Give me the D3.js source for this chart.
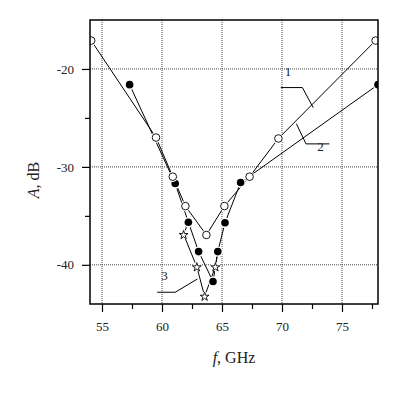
<!DOCTYPE html>
<html lang="en">
<head>
    <meta charset="UTF-8">
    <title>A vs f</title>
    <script src="https://cdn.jsdelivr.net/npm/d3@7"></script>
    <style>
      body { margin: 0; background: #fff; }
      text { font-family: "Liberation Serif", "Times New Roman", serif; fill: #222; }
    </style>
</head>
<body>
    <script>
      // curve 1: open circles
      const f1 = [54.1, 59.5, 60.9, 61.95, 63.7, 65.2, 67.3, 69.7, 77.8];
      const a1 = [-17.1, -27.0, -31.0, -34.0, -36.95, -34.0, -31.0, -27.1, -17.1];
      // curve 2: filled circles
      const f2 = [57.3, 61.1, 62.2, 63.05, 64.25, 64.65, 65.25, 66.55, 78.0];
      const a2 = [-21.6, -31.7, -35.65, -38.65, -41.7, -38.65, -35.7, -31.6, -21.6];
      // curve 3: stars (its ends join curve 2)
      const f3 = [62.2, 61.8, 62.9, 63.55, 64.45, 64.65];
      const a3 = [-35.65, -36.9, -40.2, -43.2, -40.2, -38.65];

      const xTicks = [55, 60, 65, 70, 75];
      const xMinor = [57.5, 62.5, 67.5, 72.5, 77.5];
      const yTicks = [-20, -30, -40];
      const yMinor = [-25, -35];

      const w = 400, h = 396;
      const margin = {left: 90, right: 22, top: 20, bottom: 92};

      const xScale = d3.scaleLinear().domain([54, 78]).range([margin.left, w - margin.right]);
      const yScale = d3.scaleLinear().domain([-44, -15]).range([h - margin.bottom, margin.top]);

      const svg = d3.select("body").append("svg")
                    .attr("width", w)
                    .attr("height", h);

      svg.append("clipPath").attr("id", "clip")
         .append("rect")
         .attr("x", margin.left).attr("y", margin.top)
         .attr("width", w - margin.left - margin.right)
         .attr("height", h - margin.top - margin.bottom);

      // dotted grid
      const grid = svg.append("g").attr("stroke", "#444").attr("stroke-dasharray", "1,1");
      grid.selectAll("line.gx").data(xTicks).enter().append("line")
          .attr("x1", d => xScale(d)).attr("x2", d => xScale(d))
          .attr("y1", margin.top).attr("y2", h - margin.bottom);
      grid.selectAll("line.gy").data(yTicks).enter().append("line")
          .attr("y1", d => yScale(d)).attr("y2", d => yScale(d))
          .attr("x1", margin.left).attr("x2", w - margin.right);

      // axes (plain hyphen for the minus sign, as in the original)
      const bottom = h - margin.bottom;
      svg.append("g").attr("transform", `translate(0,${bottom})`)
         .call(d3.axisBottom(xScale).tickValues(xTicks).tickSize(8).tickPadding(10)
                 .tickFormat(d => String(d)));
      svg.append("g").attr("transform", `translate(0,${bottom})`)
         .call(d3.axisBottom(xScale).tickValues(xMinor).tickSize(5).tickFormat(""));
      svg.append("g").attr("transform", `translate(${margin.left},0)`)
         .call(d3.axisLeft(yScale).tickValues(yTicks).tickSize(8).tickPadding(8)
                 .tickFormat(d => String(d)));
      svg.append("g").attr("transform", `translate(${margin.left},0)`)
         .call(d3.axisLeft(yScale).tickValues(yMinor).tickSize(5).tickFormat(""));
      svg.selectAll(".domain").remove();
      svg.selectAll(".tick line").attr("stroke", "#000").attr("stroke-width", 1.2);
      svg.selectAll(".tick text")
         .style("font-family", "Liberation Serif, serif")
         .style("font-size", "13px")
         .attr("fill", "#333");

      const plot = svg.append("g").attr("clip-path", "url(#clip)");

      const line = d3.line().x(d => xScale(d[0])).y(d => yScale(d[1]));
      const s1 = f1.map((f, i) => [f, a1[i]]);
      const s2 = f2.map((f, i) => [f, a2[i]]);
      const s3 = f3.map((f, i) => [f, a3[i]]);

      [s3, s2, s1].forEach(s => {
        plot.append("path").datum(s)
            .attr("d", line)
            .attr("fill", "none")
            .attr("stroke", "#000")
            .attr("stroke-width", 1);
      });

      // white halos give the gaps around markers
      const halo = (sel, data, r) => sel.selectAll(null).data(data).enter().append("circle")
          .attr("cx", d => xScale(d[0])).attr("cy", d => yScale(d[1]))
          .attr("r", r).attr("fill", "#fff");

      const star = d3.symbol().type(d3.symbolStar).size(24);
      halo(plot, s3, 4.5);
      plot.selectAll(null).data(s3).enter().append("path")
          .attr("d", star)
          .attr("transform", d => `translate(${xScale(d[0])},${yScale(d[1]) + 0.5})`)
          .attr("fill", "#fff").attr("stroke", "#000").attr("stroke-width", 0.9);

      halo(plot, s2, 5.2);
      plot.selectAll(null).data(s2).enter().append("circle")
          .attr("cx", d => xScale(d[0])).attr("cy", d => yScale(d[1]))
          .attr("r", 3.8).attr("fill", "#000");

      halo(plot, s1, 5.2);
      plot.selectAll(null).data(s1).enter().append("circle")
          .attr("cx", d => xScale(d[0])).attr("cy", d => yScale(d[1]))
          .attr("r", 3.8).attr("fill", "#fff").attr("stroke", "#000").attr("stroke-width", 0.9);

      // curve labels with leader lines (data units)
      const leaders = [
        {label: "1", tx: 70.5, ty: -20.7, pts: [[69.9, -21.9], [71.7, -21.9], [72.6, -23.95]]},
        {label: "2", tx: 73.2, ty: -28.4, pts: [[71.2, -25.6], [72.0, -27.65], [73.95, -27.65]]},
        {label: "3", tx: 60.2, ty: -41.5, pts: [[59.6, -42.8], [61.1, -42.8], [62.95, -41.45]]}
      ];
      leaders.forEach(l => {
        svg.append("path").datum(l.pts)
           .attr("d", line).attr("fill", "none")
           .attr("stroke", "#000").attr("stroke-width", 1);
        svg.append("text")
           .attr("x", xScale(l.tx)).attr("y", yScale(l.ty))
           .attr("text-anchor", "middle")
           .style("font-size", "13px")
           .text(l.label);
      });

      // frame
      svg.append("rect")
         .attr("x", margin.left).attr("y", margin.top)
         .attr("width", w - margin.left - margin.right)
         .attr("height", h - margin.top - margin.bottom)
         .attr("fill", "none").attr("stroke", "#000").attr("stroke-width", 1.5);

      // axis titles
      const xt = svg.append("text")
         .attr("x", (margin.left + w - margin.right) / 2)
         .attr("y", 363)
         .attr("text-anchor", "middle")
         .style("font-size", "16px");
      xt.append("tspan").style("font-style", "italic").text("f");
      xt.append("tspan").text(", GHz");

      const yt = svg.append("text")
         .attr("transform", "translate(39,180) rotate(-90)")
         .attr("text-anchor", "middle")
         .style("font-size", "16px");
      yt.append("tspan").style("font-style", "italic").text("A");
      yt.append("tspan").text(", dB");
    </script>
</body>
</html>
